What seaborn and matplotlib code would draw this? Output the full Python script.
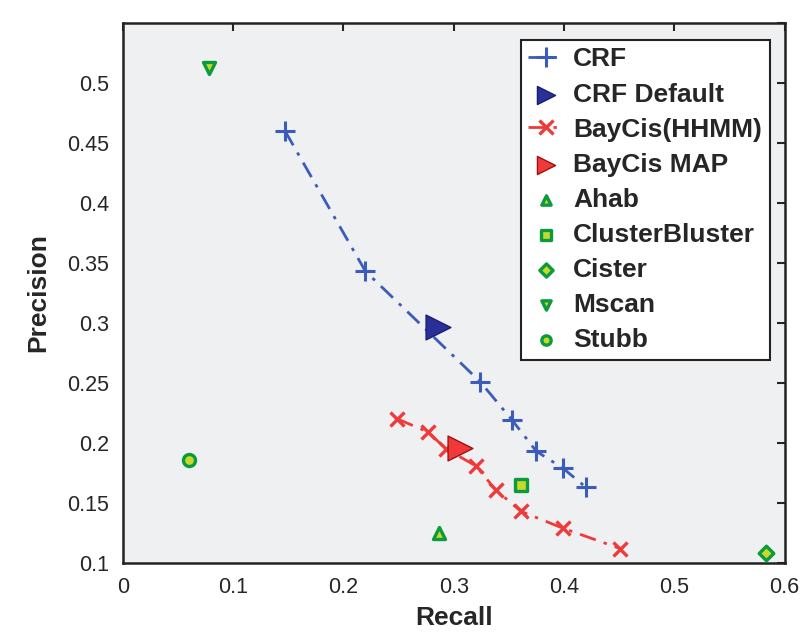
import numpy as np
import pandas as pd
import matplotlib
matplotlib.use('Agg')
import matplotlib.pyplot as plt
from matplotlib.collections import PathCollection
import seaborn as sns

# ---- data ----
crf_recall = [0.147, 0.220, 0.324, 0.353, 0.375, 0.399, 0.420]
crf_precision = [0.460, 0.343, 0.251, 0.219, 0.193, 0.179, 0.163]
crf_default = (0.286, 0.297)

baycis_recall = [0.249, 0.277, 0.293, 0.320, 0.338, 0.361, 0.399, 0.451]
baycis_precision = [0.220, 0.209, 0.195, 0.181, 0.161, 0.143, 0.129, 0.112]
baycis_map = (0.306, 0.196)

other_names = ['Ahab', 'ClusterBluster', 'Cister', 'Mscan', 'Stubb']
other_recall = [0.287, 0.361, 0.583, 0.078, 0.060]
other_precision = [0.125, 0.165, 0.108, 0.512, 0.186]
other_markers = ['^', 's', 'D', 'v', 'o']

sns.set_style('white')
plt.rcParams['font.family'] = ['Liberation Sans', 'DejaVu Sans']

fig = plt.figure(figsize=(8.08, 6.34), dpi=100)
ax = fig.add_axes([0.152, 0.112, 0.819, 0.852])
ax.set_facecolor('#eff0f2')

blue = '#3b5cb8'
navy = '#2a2f99'
red = '#f03a3a'
green = '#0b9a3e'
yellow = '#c9d92a'
dash = (0, (6, 3, 1.2, 3))

crf = pd.DataFrame({'recall': crf_recall, 'precision': crf_precision})
bay = pd.DataFrame({'recall': baycis_recall, 'precision': baycis_precision})

sns.lineplot(data=crf, x='recall', y='precision', sort=False, ax=ax, color=blue,
             linestyle=dash, lw=2, marker='+', markersize=14, mew=2.2,
             markeredgecolor=blue, label='CRF')
sns.scatterplot(x=[crf_default[0]], y=[crf_default[1]], ax=ax, marker='>', s=320,
                color=navy, edgecolor='#1a1f70', linewidth=1, zorder=5, label='CRF Default')
sns.lineplot(data=bay, x='recall', y='precision', sort=False, ax=ax, color=red,
             linestyle=dash, lw=2, marker='x', markersize=10, mew=2.4,
             markeredgecolor=red, label='BayCis(HHMM)')
sns.scatterplot(x=[baycis_map[0]], y=[baycis_map[1]], ax=ax, marker='>', s=320,
                color=red, edgecolor='#a01010', linewidth=1, zorder=5, label='BayCis MAP')

for name, r, p, m in zip(other_names, other_recall, other_precision, other_markers):
    size = 75 if m != 'D' else 55
    sns.scatterplot(x=[r], y=[p], ax=ax, marker=m, s=size, color=yellow,
                    edgecolor=green, linewidth=2.4, zorder=5, label=name)

ax.set_xlim(0, 0.6)
ax.set_ylim(0.1, 0.55)
ax.set_xticks(np.arange(0, 0.61, 0.1))
ax.set_xticklabels(['0', '0.1', '0.2', '0.3', '0.4', '0.5', '0.6'])
yt = np.arange(0.1, 0.551, 0.05)
ax.set_yticks(yt)
ax.set_yticklabels(['0.1', '0.15', '0.2', '0.25', '0.3', '0.35', '0.4', '0.45', '0.5', ''])
ax.tick_params(axis='both', direction='in', length=6, width=1.5, labelsize=15.5, pad=10,
               top=True, right=True)
for s in ax.spines.values():
    s.set_linewidth(1.8)
    s.set_color('#222222')

ax.set_xlabel('Recall', fontsize=19, fontweight='bold', labelpad=6)
ax.set_ylabel('Precision', fontsize=19, fontweight='bold', labelpad=12)

leg = ax.legend(loc='upper left', bbox_to_anchor=(0.601, 0.969), fancybox=False,
                edgecolor='#222222', framealpha=1, facecolor='white',
                prop={'weight': 'bold', 'size': 19}, labelspacing=0.42,
                handlelength=1.3, handletextpad=0.4, borderpad=0.3, borderaxespad=0)
leg.get_frame().set_linewidth(1.5)
for h in leg.legend_handles:
    if isinstance(h, PathCollection):
        sz = h.get_sizes()[0]
        h.set_sizes([170 if sz > 200 else 45])

fig.savefig('out.png', dpi=100)
